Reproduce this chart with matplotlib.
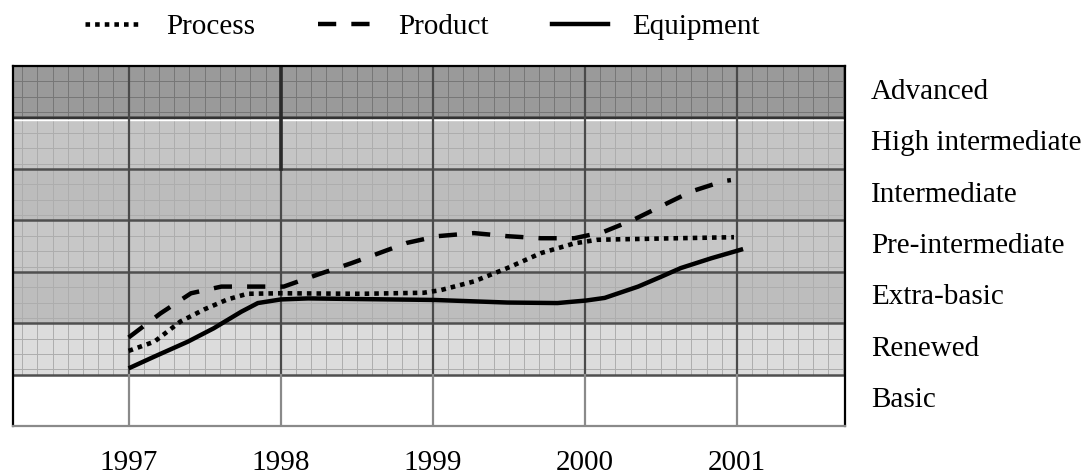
import numpy as np
import matplotlib
matplotlib.use("Agg")
import matplotlib.pyplot as plt
from matplotlib.lines import Line2D

plt.rcParams['font.family'] = ['Liberation Serif', 'DejaVu Serif']

# levels, bottom to top
levels = ["Basic", "Renewed", "Extra-basic", "Pre-intermediate",
          "Intermediate", "High intermediate", "Advanced"]
level_colors = ["#ffffff", "#dcdcdc", "#bdbdbd", "#c7c7c7",
                "#bcbcbc", "#c5c5c5", "#9a9a9a"]

years = [1997, 1998, 1999, 2000, 2001]

# curves (level units, Basic band = 0..1)
process_x = [1997.0, 1997.17, 1997.34, 1997.50, 1997.65, 1997.78, 1998.0, 1998.53,
             1998.94, 1999.05, 1999.27, 1999.49, 1999.71, 1999.93, 2000.08, 2000.24,
             2000.98]
process_y = [1.46, 1.64, 2.03, 2.27, 2.46, 2.57, 2.58, 2.57,
             2.59, 2.64, 2.81, 3.07, 3.36, 3.55, 3.62, 3.63,
             3.67]

product_x = [1997.0, 1997.21, 1997.41, 1997.61, 1997.82, 1998.02, 1998.24, 1998.46,
             1998.61, 1998.83, 1999.03, 1999.27, 1999.49, 1999.71, 1999.93, 2000.12,
             2000.32, 2000.52, 2000.70, 2000.91, 2000.96]
product_y = [1.72, 2.19, 2.58, 2.71, 2.71, 2.71, 2.94, 3.16,
             3.32, 3.56, 3.69, 3.75, 3.69, 3.65, 3.65, 3.77,
             4.01, 4.30, 4.56, 4.76, 4.78]

equip_x = [1997.0, 1997.17, 1997.39, 1997.56, 1997.65, 1997.74, 1997.85, 1998.0,
           1998.18, 1998.45, 1999.01, 1999.49, 1999.82, 2000.01, 2000.13, 2000.35,
           2000.50, 2000.63, 2000.83, 2001.04]
equip_y = [1.12, 1.35, 1.64, 1.90, 2.06, 2.22, 2.39, 2.46,
           2.48, 2.47, 2.45, 2.40, 2.39, 2.44, 2.49, 2.71,
           2.90, 3.07, 3.26, 3.44]

fig = plt.figure(figsize=(10.85, 4.75), dpi=100)
ax = fig.add_axes([0.012, 0.1032, 0.7668, 0.758])
x0, x1 = 1996.24, 2001.71
ax.set_xlim(x0, x1)
ax.set_ylim(0, 7)

# bands
for i, c in enumerate(level_colors):
    ax.axhspan(i, i + 1, color=c, zorder=0, lw=0)

# fine grid (not in the Basic band)
minor_x = np.arange(1996.3, 2001.71, 0.1)
for xv in minor_x:
    for i in range(1, 7):
        col = "#767676" if i == 6 else "#adadad"
        ax.plot([xv, xv], [i, i + 1], color=col, lw=0.7, zorder=1)
for i in range(1, 7):
    col = "#767676" if i == 6 else "#adadad"
    for f in [0.3, 0.6, 0.9]:
        ax.axhline(i + 1 - f, color=col, lw=0.7, zorder=1)

# band borders
for i in range(1, 7):
    ax.axhline(i, color="#4f4f4f", lw=1.8, zorder=2)
ax.axhline(5.985, color="#333333", lw=1.4, zorder=2)
ax.axhline(5.955, color="white", lw=1.0, zorder=2)

# year lines
for y in years:
    ax.plot([y, y], [1, 7], color="#4a4a4a", lw=1.6, zorder=2)
    ax.plot([y, y], [0, 1], color="#8a8a8a", lw=1.6, zorder=2)
ax.plot([1998, 1998], [5, 7], color="#2a2a2a", lw=2.6, zorder=2)

# curves
dot_style = (0, (1.0, 1.1))
dash_style = (0, (4.1, 3.4))
ax.plot(process_x, process_y, color="black", lw=3.3,
        linestyle=dot_style, dash_capstyle="butt", zorder=4)
ax.plot(product_x, product_y, color="black", lw=3.2,
        linestyle=dash_style, dash_capstyle="butt", zorder=4)
ax.plot(equip_x, equip_y, color="black", lw=3.2, zorder=4,
        solid_capstyle="butt", solid_joinstyle="round")

for side in ["left", "top", "right"]:
    ax.spines[side].set_color("black")
    ax.spines[side].set_linewidth(1.6)
ax.spines["bottom"].set_color("#8a8a8a")
ax.spines["bottom"].set_linewidth(1.6)

ax.set_xticks(years)
ax.set_xticklabels([str(y) for y in years], fontsize=21)
ax.tick_params(axis="x", length=0, pad=17)
ax.set_yticks([])

# level labels on the right
for i, name in enumerate(levels):
    ax.text(1.031, (i + 0.5) / 7, name, transform=ax.transAxes,
            ha="left", va="center", fontsize=21)

handles = [
    Line2D([], [], color="black", lw=3.3, linestyle=dot_style, dash_capstyle="butt"),
    Line2D([], [], color="black", lw=3.2, linestyle=dash_style, dash_capstyle="butt"),
    Line2D([], [], color="black", lw=3.2),
]
fig.legend(handles, ["Process", "Product", "Equipment"], loc="center left",
           bbox_to_anchor=(85 / 1085, 1 - 27 / 475), ncol=3, frameon=False,
           fontsize=21, handlelength=1.95, handletextpad=0.82,
           columnspacing=2.15, borderpad=0, borderaxespad=0)

fig.savefig("out.png", dpi=100)
